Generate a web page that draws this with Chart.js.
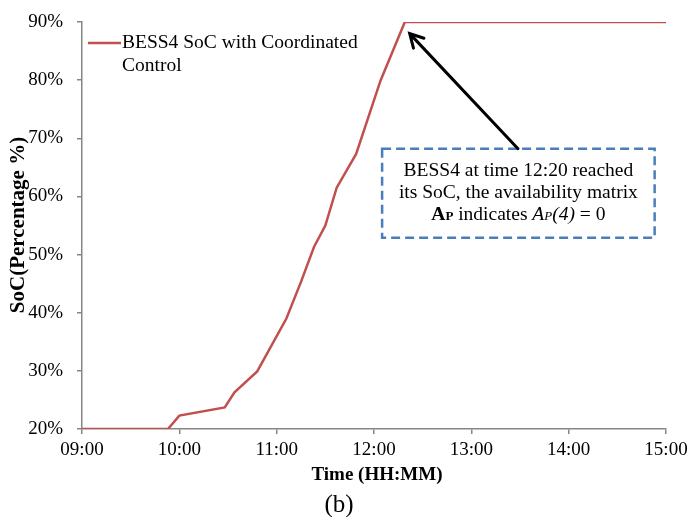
<!DOCTYPE html>
<html>
<head>
<title>BESS4 SoC</title>
<script src="https://cdn.jsdelivr.net/npm/chart.js@4.4.1/dist/chart.umd.min.js"></script>
<style>
  html, body { margin: 0; padding: 0; background: #fff; }
  #wrap { width: 693px; height: 517px; }
</style>
</head>
<body>
<div id="wrap"><canvas id="myChart"></canvas></div>
<script>
// minutes after 09:00
var minutes = [0, 53, 60, 88, 94, 108, 126, 135, 143, 150, 157, 169, 184, 199, 360];
var soc     = [20, 20, 22.3, 23.7, 26.3, 29.9, 39, 45.3, 51.3, 55, 61.5, 67.3, 79.9, 90, 90];
var xTicks  = ['09:00', '10:00', '11:00', '12:00', '13:00', '14:00', '15:00'];
var yTicks  = [20, 30, 40, 50, 60, 70, 80, 90];

var serif = '"Liberation Serif", "DejaVu Serif", serif';
var points = minutes.map(function (m, i) { return { x: m, y: soc[i] }; });

var extras = {
  id: 'extras',
  afterDraw: function (chart) {
    var c = chart.ctx;
    var xs = chart.scales.x, ys = chart.scales.y;
    c.save();
    c.fillStyle = '#000';
    c.textBaseline = 'middle';

    // axis titles and caption
    c.textAlign = 'center';
    c.font = 'bold 19px ' + serif;
    c.fillText('Time (HH:MM)', 377, 475);
    c.save();
    c.translate(19, 225);
    c.rotate(-Math.PI / 2);
    c.font = 'bold 21px ' + serif;
    c.fillText('SoC(Percentage %)', 0, 0);
    c.restore();
    c.font = '25px ' + serif;
    c.fillText('(b)', 339, 505);

    // legend
    c.strokeStyle = '#c0504d';
    c.lineWidth = 2.5;
    c.beginPath();
    c.moveTo(88, 43);
    c.lineTo(121, 43);
    c.stroke();
    c.textAlign = 'left';
    c.font = '19.5px ' + serif;
    c.fillText('BESS4 SoC with Coordinated', 122, 43);
    c.fillText('Control', 122, 66);

    // annotation box
    var bx1 = xs.getPixelForValue(185), bx2 = xs.getPixelForValue(353);
    var by1 = ys.getPixelForValue(68.2), by2 = ys.getPixelForValue(52.9);
    c.strokeStyle = '#4a7ebb';
    c.lineWidth = 2.5;
    c.setLineDash([9, 5]);
    c.strokeRect(bx1, by1, bx2 - bx1, by2 - by1);
    c.setLineDash([]);

    var cx = (bx1 + bx2) / 2;
    c.textAlign = 'center';
    c.font = '19.5px ' + serif;
    c.fillText('BESS4 at time 12:20 reached', cx, 171);
    c.fillText('its SoC, the availability matrix', cx, 193);

    // third line with mixed styles
    var parts = [
      ['A', 'bold 19.5px ', 0], ['P', 'bold 13px ', 2], [' indicates ', '19.5px ', 0],
      ['A', 'italic 19.5px ', 0], ['P', 'italic 13px ', 2], ['(4)', 'italic 19.5px ', 0], [' = 0', '19.5px ', 0]
    ];
    var total = 0;
    parts.forEach(function (p) { c.font = p[1] + serif; total += c.measureText(p[0]).width; });
    var tx = cx - total / 2;
    c.textAlign = 'left';
    parts.forEach(function (p) {
      c.font = p[1] + serif;
      c.fillText(p[0], tx, 215 + p[2]);
      tx += c.measureText(p[0]).width;
    });

    // arrow
    var ax1 = 518, ay1 = by1;
    var ax2 = xs.getPixelForValue(202), ay2 = ys.getPixelForValue(88);
    var ang = Math.atan2(ay2 - ay1, ax2 - ax1);
    c.strokeStyle = '#000';
    c.lineWidth = 3;
    c.lineCap = 'round';
    c.beginPath();
    c.moveTo(ax1, ay1);
    c.lineTo(ax2, ay2);
    c.moveTo(ax2 - 15 * Math.cos(ang - 0.5), ay2 - 15 * Math.sin(ang - 0.5));
    c.lineTo(ax2, ay2);
    c.lineTo(ax2 - 15 * Math.cos(ang + 0.5), ay2 - 15 * Math.sin(ang + 0.5));
    c.stroke();
    c.restore();
  }
};

new Chart(document.getElementById('myChart'), {
  type: 'line',
  data: {
    datasets: [{
      label: 'BESS4 SoC with Coordinated Control',
      data: points,
      borderColor: '#c0504d',
      borderWidth: 2.5,
      pointRadius: 0,
      tension: 0,
      fill: false
    }]
  },
  options: {
    responsive: true,
    maintainAspectRatio: false,
    animation: false,
    layout: { padding: { top: 22, right: 27, left: 0, bottom: 0 } },
    plugins: { legend: { display: false }, tooltip: { enabled: false } },
    scales: {
      x: {
        type: 'linear',
        min: 0, max: 360,
        afterFit: function (s) { s.height = 88; },
        afterBuildTicks: function (s) { s.ticks = xTicks.map(function (t, i) { return { value: i * 60 }; }); },
        ticks: {
          color: '#000', padding: 5, maxRotation: 0,
          font: { family: serif, size: 19 },
          callback: function (v) { return xTicks[v / 60]; }
        },
        grid: { display: true, drawOnChartArea: false, tickLength: 5, color: '#868686', lineWidth: 1.5 },
        border: { color: '#868686', width: 1.5 }
      },
      y: {
        min: 20, max: 90,
        afterFit: function (s) { s.width = 82; s.paddingTop = 0; s.paddingBottom = 0; },
        afterBuildTicks: function (s) { s.ticks = yTicks.map(function (v) { return { value: v }; }); },
        ticks: {
          color: '#000', padding: 14,
          font: { family: serif, size: 19 },
          callback: function (v) { return v + '%'; }
        },
        grid: { display: true, drawOnChartArea: false, tickLength: 5, color: '#868686', lineWidth: 1.5 },
        border: { color: '#868686', width: 1.5 }
      }
    }
  },
  plugins: [extras]
});
</script>
</body>
</html>
